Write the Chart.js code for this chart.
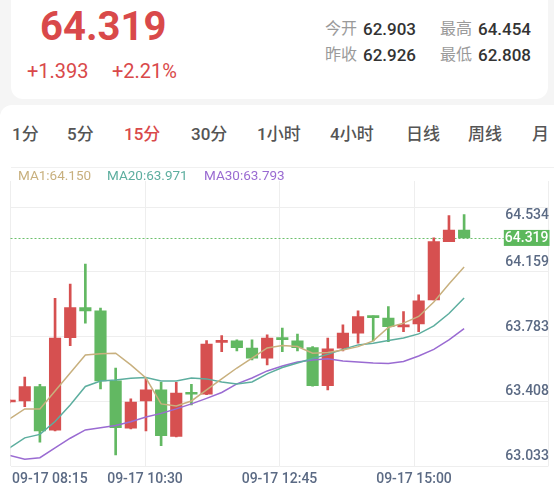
<!DOCTYPE html>
<html>
<head>
<meta charset="utf-8">
<script src="https://cdn.jsdelivr.net/npm/chart.js@4.4.1/dist/chart.umd.min.js"></script>
<style>
html,body{margin:0;padding:0;width:554px;height:494px;overflow:hidden;background:#f5f5f5;font-family:Roboto,"Noto Sans CJK SC",sans-serif;}
.abs{position:absolute;white-space:nowrap;line-height:1;}
#card1{position:absolute;left:11px;top:-20px;width:537px;height:119px;background:#fff;border-radius:12px;}
#card2{position:absolute;left:0;top:105px;width:600px;height:420px;background:#fff;border-radius:12px;}
#sep{position:absolute;left:11px;top:167px;width:560px;height:1px;background:#f0f0f0;}
.price{font-size:40px;font-weight:700;color:#d9494a;}
.chg{font-size:20px;color:#d9494a;}
.lbl{font-size:16px;color:#9a9a9a;}
.val{font-size:17px;color:#333;font-weight:500;}
.tab{font-size:17px;color:#555;font-weight:500;}
.tab.on{color:#d9494a;}
.leg{font-size:13.5px;}
#chartWrap{position:absolute;left:0;top:160px;width:554px;height:334px;}
</style>
</head>
<body>
<div id="card1"></div>
<div id="card2"></div>

<div class="abs price" style="left:40px;top:7px;">64.319</div>
<div class="abs chg" style="left:27px;top:61px;">+1.393</div>
<div class="abs chg" style="left:112px;top:61px;">+2.21%</div>

<div class="abs lbl" style="left:325px;top:21px;">今开</div>
<div class="abs val" style="left:363px;top:21px;">62.903</div>
<div class="abs lbl" style="left:440px;top:21px;">最高</div>
<div class="abs val" style="left:478px;top:21px;">64.454</div>
<div class="abs lbl" style="left:325px;top:47px;">昨收</div>
<div class="abs val" style="left:363px;top:47px;">62.926</div>
<div class="abs lbl" style="left:440px;top:47px;">最低</div>
<div class="abs val" style="left:478px;top:47px;">62.808</div>

<div class="abs tab" style="left:12px;top:126px;">1分</div>
<div class="abs tab" style="left:67px;top:126px;">5分</div>
<div class="abs tab on" style="left:124px;top:126px;">15分</div>
<div class="abs tab" style="left:191px;top:126px;">30分</div>
<div class="abs tab" style="left:257px;top:126px;">1小时</div>
<div class="abs tab" style="left:330px;top:126px;">4小时</div>
<div class="abs tab" style="left:406px;top:126px;">日线</div>
<div class="abs tab" style="left:468px;top:126px;">周线</div>
<div class="abs tab" style="left:532px;top:126px;">月</div>
<div id="sep"></div>

<div id="chartWrap"><canvas id="c" width="554" height="334"></canvas></div>
<div class="abs leg" id="leg1" style="left:18px;top:169px;color:#c8b07e;"></div>
<div class="abs leg" id="leg2" style="left:107px;top:169px;color:#5dae9f;"></div>
<div class="abs leg" id="leg3" style="left:204px;top:169px;color:#9a6bd2;"></div>

<script>
// ---- data ----
const times = ['08:15','08:30','08:45','09:00','09:15','09:30','09:45','10:00','10:15','10:30','10:45','11:00','11:15','11:30','11:45','12:00','12:15','12:30','12:45','13:00','13:15','13:30','13:45','14:00','14:15','14:30','14:45','15:00','15:15','15:30','15:45'];
const open  = [63.368,63.374,63.457,63.204,63.741,63.915,63.896,63.490,63.216,63.374,63.438,63.169,63.419,63.413,63.714,63.722,63.680,63.622,63.741,63.722,63.683,63.463,63.680,63.767,63.867,63.854,63.803,63.820,63.960,64.298,64.365];
const high  = [63.380,63.512,63.471,63.969,64.051,64.167,63.912,63.564,63.386,63.502,63.482,63.482,63.471,63.724,63.753,63.728,63.728,63.757,63.796,63.761,63.689,63.738,63.815,63.896,63.867,63.921,63.892,63.989,64.319,64.448,64.454];
const low   = [63.363,63.341,63.135,63.200,63.695,63.825,63.444,63.061,63.212,63.200,63.115,63.165,63.351,63.410,63.660,63.664,63.612,63.583,63.660,63.664,63.460,63.438,63.664,63.709,63.722,63.718,63.776,63.776,63.960,64.298,64.319];
const close = [63.374,63.457,63.200,63.738,63.915,63.896,63.490,63.219,63.367,63.438,63.173,63.419,63.413,63.703,63.722,63.683,63.622,63.738,63.729,63.683,63.463,63.676,63.767,63.863,63.857,63.805,63.815,63.954,64.298,64.365,64.319];
const ma1  = [63.270,63.328,63.328,63.432,63.536,63.641,63.647,63.651,63.583,63.507,63.357,63.345,63.374,63.438,63.502,63.565,63.623,63.681,63.696,63.690,63.651,63.655,63.670,63.689,63.722,63.800,63.825,63.864,63.948,64.052,64.150];
const ma20 = [63.102,63.160,63.180,63.255,63.351,63.458,63.490,63.496,63.505,63.510,63.490,63.490,63.507,63.502,63.484,63.473,63.484,63.531,63.568,63.594,63.620,63.644,63.673,63.699,63.709,63.724,63.739,63.763,63.809,63.881,63.971];
const ma30 = [63.058,63.036,63.045,63.102,63.158,63.206,63.219,63.232,63.254,63.281,63.302,63.328,63.357,63.389,63.423,63.473,63.507,63.548,63.577,63.600,63.612,63.618,63.606,63.600,63.594,63.591,63.603,63.635,63.673,63.728,63.793];
const xTickLabels = ['09-17 08:15','09-17 10:30','09-17 12:45','09-17 15:00'];
const yTickLabels = [63.033, 63.408, 63.783, 64.159, 64.534];

// ---- styles ----
const RED = '#d65050', GREEN = '#62b862';
const C_MA1 = '#c8b07e', C_MA20 = '#5dae9f', C_MA30 = '#9a6bd2';
const TICK_COLOR = '#5b6a84';

document.getElementById('leg1').textContent = 'MA1:' + ma1[ma1.length-1].toFixed(3);
document.getElementById('leg2').textContent = 'MA20:' + ma20[ma20.length-1].toFixed(3);
document.getElementById('leg3').textContent = 'MA30:' + ma30[ma30.length-1].toFixed(3);

const X_MIN = 0.059, X_MAX = 35.57;
const Y_MIN = 62.997, Y_MAX = 64.649;
const yStep = (yTickLabels[yTickLabels.length-1] - yTickLabels[0]) / (yTickLabels.length - 1);
const yGrid = yTickLabels.map((_, j) => Y_MIN + j * yStep);
const xGrid = [0,1,2,3,4].map(j => X_MIN + j * (X_MAX - X_MIN) / 4);

const candleColor = ctx => close[ctx.dataIndex] >= open[ctx.dataIndex] ? RED : GREEN;

const overlay = {
  id: 'overlay',
  beforeDatasetsDraw(chart) {
    const {ctx, chartArea: a, scales: {y}} = chart;
    const py = Math.round(y.getPixelForValue(close[close.length-1])) + 0.5;
    ctx.save();
    ctx.font = '500 14px Roboto';
    const w = ctx.measureText(close[close.length-1].toFixed(3)).width + 2;
    ctx.strokeStyle = '#6cc06c';
    ctx.lineWidth = 1;
    ctx.setLineDash([2, 2]);
    ctx.beginPath();
    ctx.moveTo(a.left, py);
    ctx.lineTo(a.right + 1 - w, py);
    ctx.stroke();
    ctx.restore();
  },
  afterDatasetsDraw(chart) {
    const {ctx, chartArea: a, scales: {x, y}} = chart;
    ctx.save();
    ctx.font = '500 14px Roboto';
    ctx.fillStyle = TICK_COLOR;
    ctx.textBaseline = 'middle';
    // y labels
    ctx.textAlign = 'right';
    yGrid.forEach((v, j) => {
      const gp = y.getPixelForValue(v);
      const ty = (j === yGrid.length - 1) ? gp + 8 : gp - 9.5;
      ctx.fillText(yTickLabels[j].toFixed(3), a.right + 0.5, ty);
    });
    // x labels
    ctx.textAlign = 'left';
    xTickLabels.forEach((t, j) => {
      const px = x.getPixelForValue(xGrid[j]);
      const w = ctx.measureText(t).width;
      const left = Math.max(px - w / 2, a.left + 1.5);
      ctx.fillText(t, left, a.bottom + 13);
    });
    // last price box
    const last = close[close.length-1];
    const py = y.getPixelForValue(last);
    const txt = last.toFixed(3);
    const w = ctx.measureText(txt).width + 2;
    ctx.fillStyle = '#5cb85c';
    ctx.fillRect(a.right + 1 - w, py - 8, w, 16);
    ctx.fillStyle = '#ffffff';
    ctx.textAlign = 'right';
    ctx.fillText(txt, a.right, py + 0.5);
    ctx.restore();
  }
};

new Chart(document.getElementById('c'), {
  type: 'bar',
  data: {
    datasets: [
      { type: 'line', label: 'MA1', data: times.map((t, i) => ({x: i, y: ma1[i]})), borderColor: C_MA1, borderWidth: 1.5, pointRadius: 0, tension: 0, order: 0 },
      { type: 'line', label: 'MA20', data: times.map((t, i) => ({x: i, y: ma20[i]})), borderColor: C_MA20, borderWidth: 1.5, pointRadius: 0, tension: 0, order: 0 },
      { type: 'line', label: 'MA30', data: times.map((t, i) => ({x: i, y: ma30[i]})), borderColor: C_MA30, borderWidth: 1.5, pointRadius: 0, tension: 0, order: 0 },
      { label: 'body', data: times.map((t, i) => ({x: i, y: [open[i], close[i]]})), backgroundColor: candleColor, barThickness: 11.5, minBarLength: 2, grouped: false, order: 1 },
      { label: 'wick', data: times.map((t, i) => ({x: i, y: [low[i], high[i]]})), backgroundColor: candleColor, barThickness: 2, grouped: false, order: 2 }
    ]
  },
  options: {
    responsive: false,
    animation: false,
    devicePixelRatio: 1,
    layout: { padding: { top: 21, bottom: 28, left: 10.5, right: 5.5 } },
    plugins: { legend: { display: false }, tooltip: { enabled: false } },
    scales: {
      x: {
        type: 'linear', min: X_MIN, max: X_MAX, offset: false, bounds: 'data',
        afterBuildTicks: s => { s.ticks = xGrid.map(v => ({value: v})); },
        ticks: { display: false },
        grid: { color: '#eeeeee', lineWidth: 1, drawTicks: false, offset: false },
        border: { display: false }
      },
      y: {
        type: 'linear', min: Y_MIN, max: Y_MAX, beginAtZero: false, bounds: 'data',
        afterBuildTicks: s => { s.ticks = yGrid.map(v => ({value: v})); },
        ticks: { display: false },
        grid: { color: '#eeeeee', lineWidth: 1, drawTicks: false },
        border: { display: false }
      }
    }
  },
  plugins: [overlay]
});
</script>
</body>
</html>
